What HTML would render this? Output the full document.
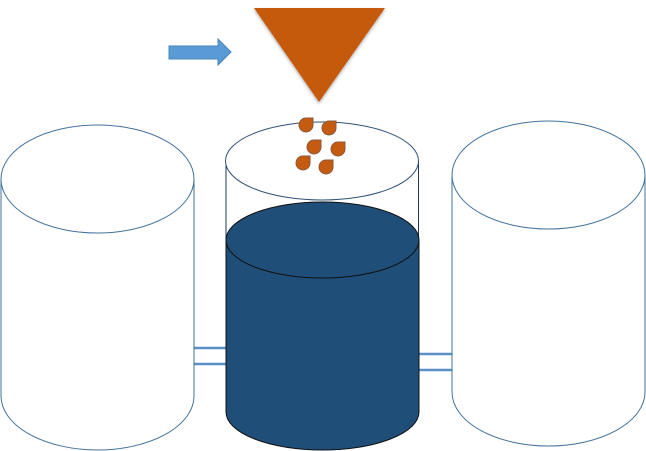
<!DOCTYPE html>
<html><head><style>html,body{margin:0;padding:0;background:#fff;width:646px;height:451px;overflow:hidden}</style></head>
<body>
<svg width="646" height="451" viewBox="0 0 646 451" xmlns="http://www.w3.org/2000/svg">
<defs><filter id="sh" x="-10%" y="-10%" width="120%" height="130%"><feDropShadow dx="0" dy="1.5" stdDeviation="1.5" flood-color="#000" flood-opacity="0.35"/></filter></defs>
<!-- connectors -->
<g stroke="#5b8fc7" stroke-width="2.5">
<line x1="194" y1="348" x2="226" y2="348"/><line x1="194" y1="364" x2="226" y2="364"/>
<line x1="419" y1="354" x2="452" y2="354"/><line x1="419" y1="370" x2="452" y2="370"/>
</g>
<!-- left cylinder -->
<path d="M1,179 L1,396 A96.5,54 0 0 0 194,396 L194,179" fill="#fff" stroke="#41719c" stroke-width="1"/>
<ellipse cx="97.5" cy="179" rx="96.5" ry="54" fill="#fff" stroke="#41719c" stroke-width="1"/>
<!-- right cylinder -->
<path d="M452,175 L452,392 A96.5,54 0 0 0 645,392 L645,175" fill="#fff" stroke="#41719c" stroke-width="1"/>
<ellipse cx="548.5" cy="175" rx="96.5" ry="54" fill="#fff" stroke="#41719c" stroke-width="1"/>
<!-- middle cylinder outer -->
<line x1="226" y1="161" x2="226" y2="240" stroke="#1f3a5a" stroke-width="1"/>
<line x1="418.5" y1="161" x2="418.5" y2="240" stroke="#1f3a5a" stroke-width="1"/>
<ellipse cx="322" cy="161" rx="96.5" ry="39" fill="#fff" stroke="#2e5277" stroke-width="1"/>
<!-- liquid -->
<path d="M226,240 L226,412 A96.5,38 0 0 0 419,412 L419,240 Z" fill="#1f4e79" stroke="#111" stroke-width="1"/>
<ellipse cx="322.5" cy="240" rx="96.5" ry="38" fill="#1f4e79" stroke="#111" stroke-width="1"/>
<!-- funnel -->
<polygon points="254,8 385,8 319,102" fill="#c55a11" filter="url(#sh)"/>
<!-- arrow -->
<polygon points="169,46 218,46 218,39 231,52 218,65 218,59 169,59" fill="#5b9bd5" stroke="#4a84bd" stroke-width="1"/>
<!-- drops -->
<g fill="#c55a11" stroke="#8a5a3a" stroke-width="1">
<path d="M0,-7 L7,-7 L7,0 A7,7 0 1 1 0,-7 Z" transform="translate(306,125)"/>
<path d="M0,-7 L7,-7 L7,0 A7,7 0 1 1 0,-7 Z" transform="translate(329,128)"/>
<path d="M0,-7 L7,-7 L7,0 A7,7 0 1 1 0,-7 Z" transform="translate(314,147)"/>
<path d="M0,-7 L7,-7 L7,0 A7,7 0 1 1 0,-7 Z" transform="translate(338,149)"/>
<path d="M0,-7 L7,-7 L7,0 A7,7 0 1 1 0,-7 Z" transform="translate(303,163)"/>
<path d="M0,-7 L7,-7 L7,0 A7,7 0 1 1 0,-7 Z" transform="translate(326,167)"/>
</g>
</svg>
</body></html>
